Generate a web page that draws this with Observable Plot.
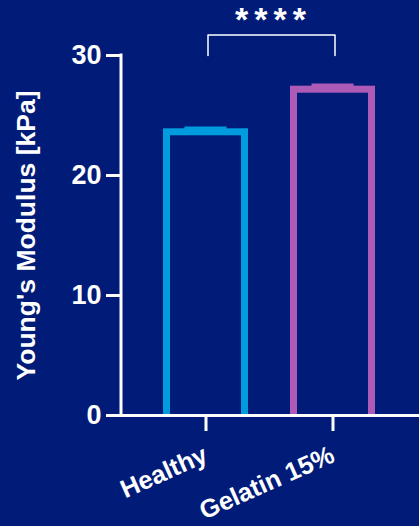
<!DOCTYPE html>
<html>
<head>
<meta charset="utf-8">
<script src="https://cdn.jsdelivr.net/npm/d3@7"></script>
<script src="https://cdn.jsdelivr.net/npm/@observablehq/plot@0.6"></script>
<style>
  html, body { margin: 0; padding: 0; background: #011c78; }
  #chart svg { display: block; font-family: Arial, "Liberation Sans", sans-serif; font-weight: bold; }
</style>
</head>
<body>
<div id="chart"></div>
<script>
const groups = ["Healthy", "Gelatin 15%"];
const means = [23.6, 27.15];
const errors = [0.37, 0.41];
const colors = ["#009cde", "#ae5bb8"];
const yTicks = [0, 10, 20, 30];
const sigLabel = "****";
const yLabel = "Young's Modulus [kPa]";

const bg = "#011c78";
const data = groups.map((g, i) => ({group: g, mean: means[i], err: errors[i], color: colors[i]}));

const bracketBase = 30;
const bracketTop = 31.7;
const bracket = [
  {group: groups[0], y: bracketBase},
  {group: groups[0], y: bracketTop},
  {group: groups[1], y: bracketTop},
  {group: groups[1], y: bracketBase}
];

// y axis line drawn from the y scale
function yAxisLine(index, scales, values, dimensions) {
  const {marginLeft} = dimensions;
  const [d0, d1] = scales.scales.y.domain;
  const line = d3.create("svg:line")
    .attr("x1", marginLeft).attr("x2", marginLeft)
    .attr("y1", scales.y(d0) + 1.5).attr("y2", scales.y(d1) - 1.5)
    .attr("stroke", "white").attr("stroke-width", 3);
  return line.node();
}

const chart = Plot.plot({
  width: 419,
  height: 526,
  marginLeft: 121,
  marginRight: 0,
  marginTop: 55,
  marginBottom: 111,
  style: {background: bg, color: "white", fontFamily: "Arial, 'Liberation Sans', sans-serif", fontWeight: "bold", overflow: "visible"},
  x: {type: "band", domain: groups, range: [141.5, 395.5], padding: 0},
  y: {domain: [0, 30]},
  color: {type: "identity"},
  marks: [
    Plot.barY(data, {
      x: "group", y: "mean", fill: "none", stroke: "color", strokeWidth: 7,
      insetLeft: 24.5, insetRight: 24.5, insetBottom: -4, clip: true
    }),
    Plot.ruleX(data, {x: "group", y1: "mean", y2: d => d.mean + d.err, stroke: "color", strokeWidth: 2.5}),
    Plot.tickY(data, {x: "group", y: d => d.mean + d.err, stroke: "color", strokeWidth: 2.5, insetLeft: 42.5, insetRight: 42.5}),
    Plot.line(bracket, {x: "group", y: "y", stroke: "white", strokeWidth: 1.5, dx: 2}),
    Plot.text([sigLabel], {frameAnchor: "top", dy: -35.5, dx: 3, fontSize: 34, fill: "white", fontWeight: "bold", lineAnchor: "middle"}),
    Plot.axisY({ticks: yTicks, tickSize: 15, tickPadding: 5, fontSize: 27, fontWeight: "bold", strokeWidth: 3, stroke: "white", fill: "white", label: null}),
    yAxisLine,
    Plot.ruleY([0], {stroke: "white", strokeWidth: 3}),
    Plot.axisX({tickSize: 16, tickPadding: 22, tickRotate: -24, fontSize: 25.5, fontWeight: "bold", strokeWidth: 3, stroke: "white", fill: "white", label: null}),
    Plot.text([yLabel], {frameAnchor: "left", textAnchor: "middle", rotate: -90, dx: -95, fontSize: 26.5, fontWeight: "bold", fill: "white"})
  ]
});

d3.select(chart).selectAll("text").filter(function() { return this.textContent === sigLabel; })
  .style("letter-spacing", "6px");

document.getElementById("chart").appendChild(chart);
</script>
</body>
</html>
